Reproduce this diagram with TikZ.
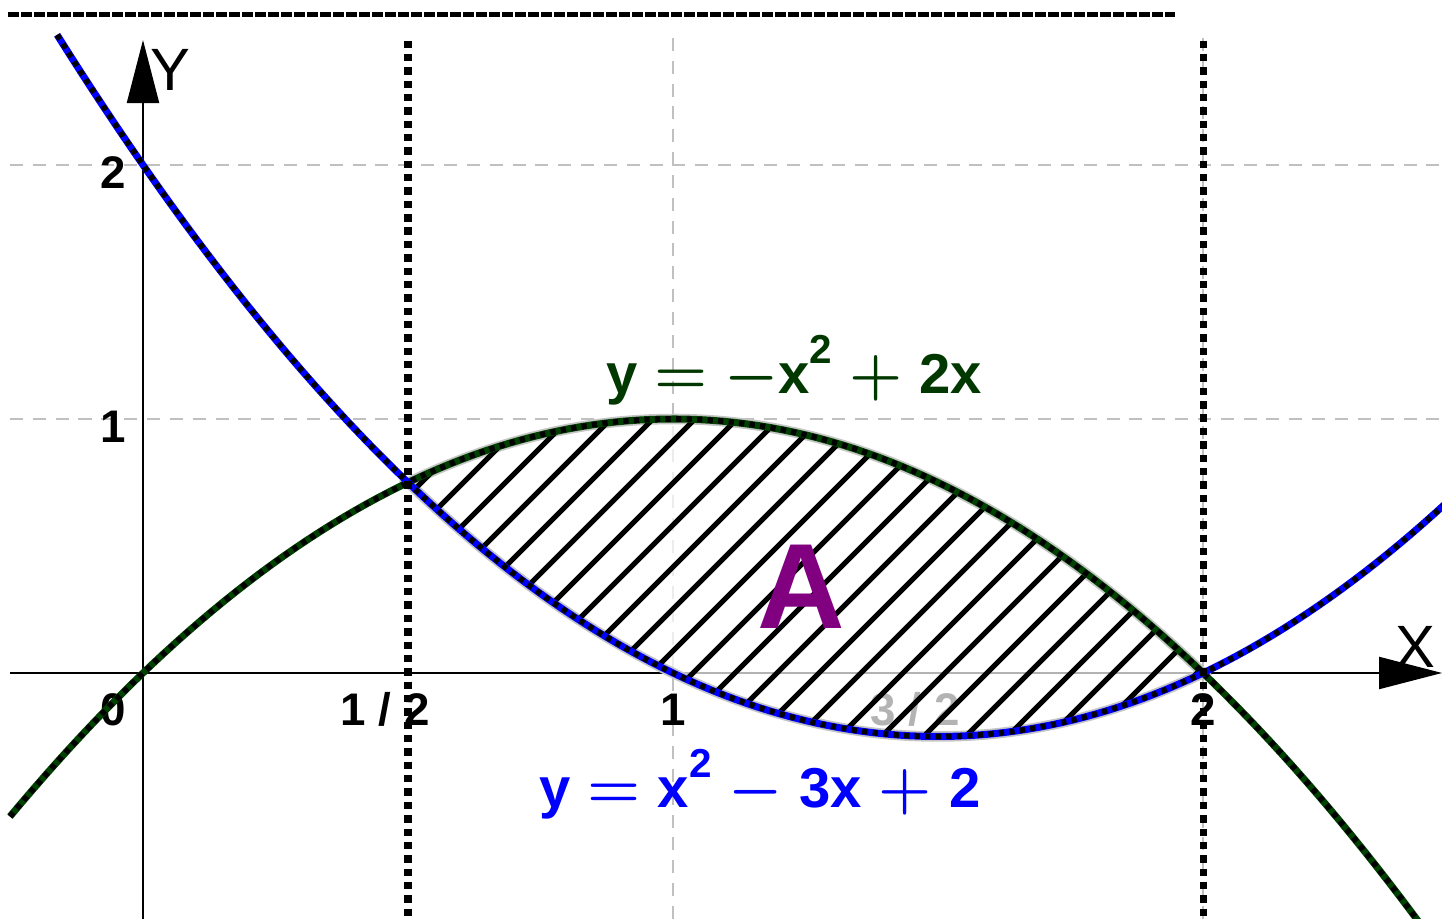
\documentclass[tikz,border=0pt]{standalone}
\usepackage{fontspec}
\setmainfont{Liberation Sans}
\usetikzlibrary{arrows.meta}
\definecolor{crvgreen}{RGB}{0,64,0}
\definecolor{eqgreen}{RGB}{0,56,0}
\definecolor{areapurple}{RGB}{128,0,128}
\definecolor{gridgray}{RGB}{192,192,192}
\tikzset{
  gridln/.style={gridgray,line width=0.6pt,dash pattern=on 3.7pt off 2.8pt},
  axisln/.style={line width=0.6pt,-{Triangle[length=6.3mm,width=3.2mm]}},
  dotln/.style={line width=2pt,dash pattern=on 2.1pt off 1.7pt},
  topln/.style={line width=1.4pt,dash pattern=on 3pt off 0.7pt},
  bluecrv/.style={blue,line width=2pt,postaction={draw=black,line width=1.6pt,dash pattern=on 1.5pt off 1.5pt}},
  greencrv/.style={crvgreen,line width=2pt,postaction={draw=black,line width=1.6pt,dash pattern=on 1.5pt off 1.5pt}},
  areafill/.style={fill=white,fill opacity=0.7,draw=gray!45,draw opacity=1,line width=3pt},
  hatchln/.style={line width=1.5pt},
  ticklbl/.style={font=\fontsize{13}{13}\selectfont\bfseries,anchor=base,inner sep=0pt},
  axislbl/.style={font=\fontsize{17}{17}\selectfont,anchor=base,inner sep=0pt},
  eqlbl/.style={font=\fontsize{16}{16}\selectfont\bfseries\boldmath,anchor=base,inner sep=0pt}
}
% region between the two parabolas
\newcommand{\arearegion}{plot[domain=0.5:2,samples=60] (\x,{-\x*\x+2*\x}) -- plot[domain=2:0.5,samples=60] (\x,{\x*\x-3*\x+2}) -- cycle}
\newcommand{\opgap}{\hspace{0.3em}}
\newcommand{\bop}[1]{{\fontsize{18.5}{18.5}\selectfont$#1$}}
\newcommand{\sqr}{\raisebox{8.5pt}{\fontsize{11.5}{11.5}\selectfont 2}}

\begin{document}
\begin{tikzpicture}[x=5.3cm,y=2.54cm]
  \coordinate (bl) at (-0.2698,-0.9685);
  \coordinate (tr) at (2.4509,2.6496);
  \useasboundingbox (bl) rectangle (tr);
  \clip (bl) rectangle (tr);

  % grid
  \foreach \gy in {1,2} \draw[gridln] (-0.251,\gy) -- (2.451,\gy);
  \foreach \gx in {1,2} \draw[gridln] (\gx,-0.9685) -- (\gx,2.51);

  % axes
  \coordinate (xl) at (-0.251,0);
  \coordinate (xr) at (2.451,0);
  \coordinate (yb) at (0,-0.9685);
  \coordinate (yt) at (0,2.492);
  \draw[axisln] (xl) -- (xr);
  \draw[axisln] (yb) -- (yt);
  \node[axislbl] (xlbl) at (2.400,0.020) {X};
  \node[axislbl] (ylbl) at (0.051,2.295) {Y};

  % tick labels
  \node[ticklbl] (t0) at (-0.056,-0.205) {0};
  \node[ticklbl] (thalf) at (0.457,-0.205) {1 / 2};
  \node[ticklbl] (tone) at (1.0,-0.205) {1};
  \node[ticklbl] (tthreehalf) at (1.457,-0.205) {3 / 2};
  \node[ticklbl] (ttwo) at (2.0,-0.205) {2};
  \node[ticklbl] (yone) at (-0.057,0.909) {1};
  \node[ticklbl] (ytwo) at (-0.057,1.909) {2};

  % shaded area A
  \filldraw[areafill] \arearegion;
  \begin{scope}
    \clip \arearegion;
    \begin{scope}[x=1cm,y=1cm]
      \foreach \k in {-1,...,28}
        \draw[hatchln] ({0.04+0.42*\k-3.5},-3.5) -- ++(7,7);
    \end{scope}
  \end{scope}

  % curves
  \draw[greencrv] plot[domain=-0.251:2.42,samples=120] (\x,{-\x*\x+2*\x});
  \draw[bluecrv] plot[domain=-0.162:2.46,samples=120] (\x,{\x*\x-3*\x+2});

  % bounds of integration
  \coordinate (ha) at (0.5,2.49);
  \coordinate (hb) at (0.5,-0.9685);
  \coordinate (ta) at (2,2.49);
  \coordinate (tb) at (2,-0.9685);
  \draw[dotln] (ha) -- (hb);
  \draw[dotln] (ta) -- (tb);
  \coordinate (dl) at (-0.2547,2.592);
  \coordinate (dr) at (1.947,2.592);
  \draw[topln] (dl) -- (dr);

  % labels
  \node[eqlbl,eqgreen] (eqtop) at (1.228,1.102) {y\opgap\bop{=}\opgap\bop{-}x\sqr\opgap\bop{+}\opgap2x};
  \node[eqlbl,blue] (eqbot) at (1.164,-0.531) {y\opgap\bop{=}\opgap x\sqr\opgap\bop{-}\opgap3x\opgap\bop{+}\opgap2};
  \node[font=\fontsize{34.5}{34.5}\selectfont\bfseries,areapurple,anchor=base,inner sep=0pt] (alabel) at (1.2415,0.177) {A};
\end{tikzpicture}
\end{document}
